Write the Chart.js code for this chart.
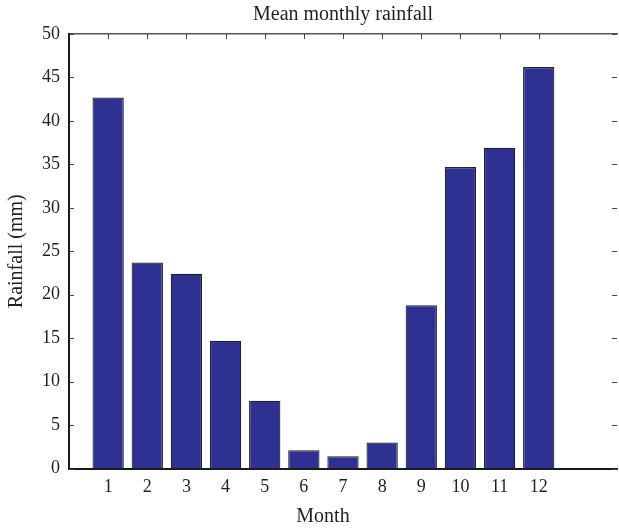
<!DOCTYPE html>
<html>
<head>
<meta charset="utf-8">
<script src="https://cdn.jsdelivr.net/npm/chart.js@4"></script>
<style>
  html, body { margin: 0; padding: 0; background: #fff; overflow: hidden; }
  #wrap { width: 625px; height: 531px; }
</style>
</head>
<body>
<div id="wrap"><canvas id="rainChart" width="625" height="531"></canvas></div>
<script>
// Data
const months = [1, 2, 3, 4, 5, 6, 7, 8, 9, 10, 11, 12];
const rainfall = [42.7, 23.7, 22.4, 14.7, 7.8, 2.1, 1.4, 3.0, 18.8, 34.7, 36.9, 46.2];
const yTicks = [0, 5, 10, 15, 20, 25, 30, 35, 40, 45, 50];

const serif = "'Liberation Serif', 'DejaVu Serif', serif";
const textColor = "#231f20";

// inward ticks (matlab style) + x label
const matlabTicks = {
  id: "matlabTicks",
  afterDraw(chart) {
    const { ctx, chartArea, scales } = chart;
    const len = 5;
    ctx.save();
    ctx.strokeStyle = "#444";
    ctx.lineWidth = 1;
    ctx.beginPath();
    yTicks.forEach(v => {
      const y = Math.round(scales.y.getPixelForValue(v)) + 0.5;
      ctx.moveTo(chartArea.left, y);
      ctx.lineTo(chartArea.left + len, y);
      ctx.moveTo(chartArea.right - len, y);
      ctx.lineTo(chartArea.right, y);
    });
    months.forEach(m => {
      const x = Math.round(scales.x.getPixelForValue(m)) + 0.5;
      ctx.moveTo(x, chartArea.top);
      ctx.lineTo(x, chartArea.top + len);
    });
    ctx.stroke();

    ctx.fillStyle = textColor;
    ctx.font = "20px " + serif;
    ctx.textAlign = "center";
    ctx.textBaseline = "middle";
    ctx.fillText("Month", (chartArea.left + chartArea.right) / 2 - 20, 517);
    ctx.restore();
  }
};

new Chart(document.getElementById("rainChart"), {
  type: "bar",
  data: {
    datasets: [{
      data: months.map((m, i) => ({ x: m, y: rainfall[i] })),
      backgroundColor: "#2e3192",
      borderColor: "#232323",
      borderWidth: 1.2,
      barPercentage: 0.8,
      categoryPercentage: 1
    }]
  },
  options: {
    responsive: false,
    animation: false,
    layout: { padding: { left: 0, right: 5, top: 0, bottom: 0 } },
    plugins: {
      legend: { display: false },
      tooltip: { enabled: false },
      title: {
        display: true,
        text: "Mean monthly rainfall",
        fullSize: false,
        color: textColor,
        font: { family: serif, size: 20, weight: "normal" },
        padding: { top: 3, bottom: 0 }
      }
    },
    scales: {
      x: {
        type: "linear",
        min: 0,
        max: 14,
        offset: false,
        grid: { display: false, drawTicks: false },
        border: { display: true, color: "#1a1a1a", width: 2 },
        ticks: {
          stepSize: 1,
          autoSkip: false,
          maxRotation: 0,
          padding: 8,
          color: textColor,
          font: { family: serif, size: 18 },
          callback: v => months.includes(v) ? String(v) : ""
        },
        afterFit: s => { s.height = 62.5; }
      },
      x2: {
        type: "linear",
        position: "top",
        min: 0,
        max: 14,
        offset: false,
        grid: { display: false, drawTicks: false },
        border: { display: true, color: "#555", width: 1.5 },
        ticks: { display: false },
        afterFit: s => { s.height = 7; }
      },
      y: {
        min: 0,
        max: 50,
        grid: { display: false, drawTicks: false },
        border: { display: true, color: "#1a1a1a", width: 2 },
        ticks: {
          stepSize: 5,
          padding: 9,
          color: textColor,
          font: { family: serif, size: 18 }
        },
        title: {
          display: true,
          text: "Rainfall (mm)",
          color: textColor,
          font: { family: serif, size: 20 },
          padding: { top: 5, bottom: 0 }
        },
        afterFit: s => { s.width = 69; }
      }
    }
  },
  plugins: [matlabTicks]
});
</script>
</body>
</html>
